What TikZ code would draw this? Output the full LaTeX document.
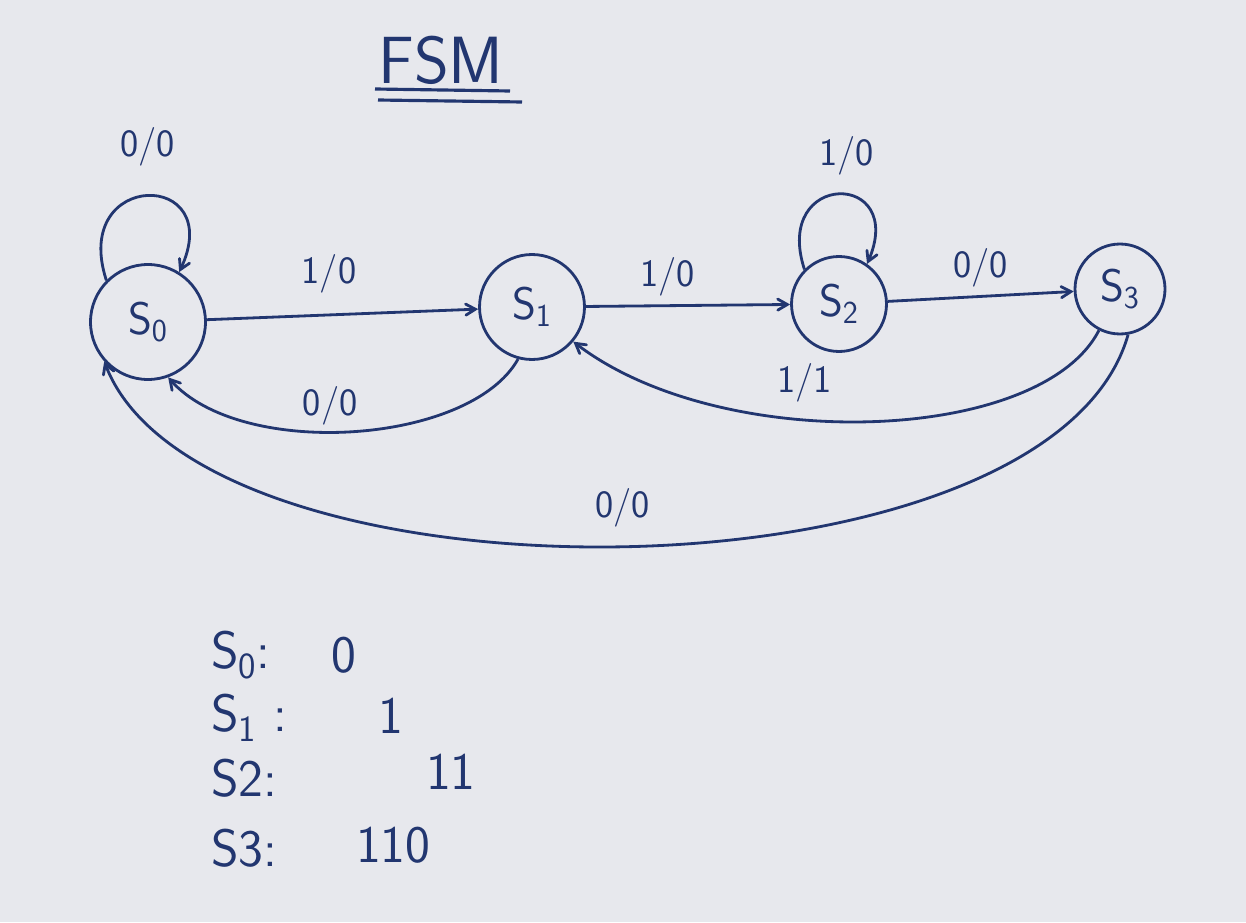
\documentclass[tikz,border=0pt]{standalone}
\usepackage{tikz}
\usetikzlibrary{calc,arrows}

\definecolor{ink}{RGB}{34,54,112}
\definecolor{paper}{RGB}{231,232,237}
\newcommand{\statefont}{\sffamily\fontsize{26}{30}\selectfont}
\newcommand{\labfont}{\sffamily\fontsize{22}{26}\selectfont}
\newcommand{\listfont}{\sffamily\fontsize{30}{34}\selectfont}

\tikzset{
  state/.style={circle,draw=ink,line width=1.6pt,text=ink,font=\statefont,inner sep=0pt},
  trans/.style={->,>=angle 60,draw=ink,line width=1.6pt},
  lab/.style={text=ink,font=\labfont},
  entry/.style={anchor=west,text=ink,font=\listfont}
}

\begin{document}
\begin{tikzpicture}[x=0.02cm,y=0.02cm]
%\draw[help lines] (0,0) grid (1246,-922);
\useasboundingbox[fill=paper] (0,0) rectangle (1246,-922);

% title
\node[text=ink,font=\sffamily\fontsize{38}{40}\selectfont] (title) at (441,-60) {FSM};
\draw[ink,line width=1.8pt] (375,-89) -- (510,-91);
\draw[ink,line width=1.8pt] (378,-100) -- (522,-102);

% states
\node[state,minimum size=2.3cm] (s0) at (148,-322) {S\textsubscript{0}};
\node[state,minimum size=2.1cm] (s1) at (532,-307) {S\textsubscript{1}};
\node[state,minimum size=1.9cm] (s2) at (839,-304) {S\textsubscript{2}};
\node[state,minimum size=1.8cm] (s3) at (1120,-289) {S\textsubscript{3}};

% forward edges
\draw[trans] (s0) -- node[lab,pos=0.45,above=0.3cm] {1/0} (s1);
\draw[trans] (s1) -- node[lab,pos=0.4,above=0.05cm] {1/0} (s2);
\draw[trans] (s2) -- node[lab,pos=0.5,above=0.05cm] {0/0} (s3);

% self loops
\draw[trans] (s0.135) .. controls (70,-169) and (228,-169) .. (s0.58)
    node[lab,pos=0.5,above=0.45cm] {0/0};
\draw[trans] (s2.135) .. controls (772,-170) and (908,-170) .. (s2.55)
    node[lab,pos=0.55,above=0.25cm] {1/0};

% back edges
\draw[trans] (s1.255) .. controls (470,-445) and (240,-460) .. (s0.-70)
    node[lab,pos=0.55,above=0cm] {0/0};
\draw[trans] (s3.243) .. controls (1040,-445) and (720,-455) .. (s1.-40)
    node[lab,pos=0.6,above=0.2cm] {1/1};
\draw[trans] (s3.-80) .. controls (1050,-610) and (200,-615) .. (s0.222)
    node[lab,pos=0.5,above=0.25cm] {0/0};

% encoding list
\node[entry] (e0) at (205,-655) {S\textsubscript{0}:};
\node[entry] (v0) at (325,-655) {0};
\node[entry] (e1) at (205,-718) {S\textsubscript{1} :};
\node[entry] (v1) at (372,-716) {1};
\node[entry] (e2) at (205,-778) {S2:};
\node[entry] (v2) at (420,-772) {11};
\node[entry] (e3) at (205,-848) {S3:};
\node[entry] (v3) at (350,-845) {110};
\end{tikzpicture}
\end{document}
